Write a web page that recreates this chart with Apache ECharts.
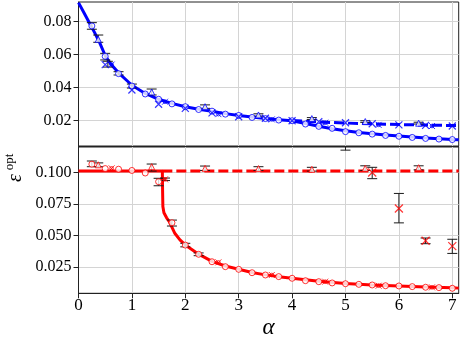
<!DOCTYPE html>
<html><head><meta charset="utf-8">
<script src="https://cdn.jsdelivr.net/npm/echarts@6/dist/echarts.min.js"></script>
<style>html,body{margin:0;padding:0;background:#fff}#c{width:461px;height:344px}</style>
</head><body><div id="c"></div><script>
// ---- axis ticks ----
const xTicks = [0, 1, 2, 3, 4, 5, 6, 7];
const topTicks = [0.02, 0.04, 0.06, 0.08];
const botTicks = [0.025, 0.05, 0.075, 0.1];

// ---- top panel (blue) ----
const blueSolidX = [0,0.1,0.2,0.3,0.4,0.5,0.6,0.75,0.9,1.0,1.25,1.5,1.75,2.0,2.25,2.5,2.75,3.0,3.25,3.5,3.75,4.0,4.25,4.5,4.75,5.0,5.25,5.5,5.75,6.0,6.5,7.0,7.12];
const blueSolidY = [0.0915,0.0855,0.0795,0.0735,0.0670,0.0595,0.0545,0.0490,0.0445,0.0415,0.0365,0.0330,0.0305,0.0285,0.0270,0.0257,0.0243,0.0232,0.0222,0.0213,0.0206,0.0200,0.0183,0.0167,0.0152,0.0139,0.0129,0.0121,0.0114,0.0107,0.0096,0.0087,0.0085];
const blueDashX = [4.0,4.5,5.0,5.5,6.0,6.5,7.0,7.12];
const blueDashY = [0.0201,0.0193,0.0186,0.0181,0.0177,0.0174,0.0171,0.0170];
const blueCircX = [0.25,0.5,0.75,1.0,1.25,1.5,1.75,2.0,2.25,2.5,2.75,3.0,3.25,3.5,3.75,4.0,4.25,4.5,4.75,5.0,5.25,5.5,5.75,6.0,6.25,6.5,6.75,7.0];
const blueCircY = [0.0774,0.0590,0.0485,0.0410,0.0362,0.0330,0.0302,0.0285,0.0268,0.0258,0.0240,0.0232,0.0220,0.0213,0.0204,0.0200,0.0180,0.0166,0.0154,0.0134,0.0127,0.0119,0.0111,0.0106,0.0099,0.0093,0.0089,0.0086];
const blueTriX = [0.37,1.37,2.37,3.37,4.37,5.37,6.37];
const blueTriY = [0.0693,0.0374,0.0285,0.0235,0.0213,0.0195,0.0185];
const blueCrossX = [0.5,1.0,1.5,2.0,2.5,3.0,3.5,4.0,4.5,5.0,5.5,6.0,6.5,7.0];
const blueCrossY = [0.0540,0.0386,0.0300,0.0275,0.0248,0.0224,0.0215,0.0200,0.0195,0.0188,0.0182,0.0175,0.0172,0.0168];
const blueOxX = [0.62,1.62,2.62,3.62,4.62,5.62,6.62];
const blueOxY = [0.0540,0.0315,0.0240,0.0208,0.0188,0.0175,0.0168];
const blueErrX  = [0.25,0.37,0.5,0.55,0.75,1.0,1.37,2.37,3.37,4.37,5.37,6.37];
const blueErrLo = [0.0754,0.0675,0.0568,0.0525,0.0477,0.0398,0.0356,0.0275,0.0228,0.0207,0.0190,0.0180];
const blueErrHi = [0.0794,0.0719,0.0608,0.0560,0.0497,0.0422,0.0392,0.0296,0.0242,0.0219,0.0200,0.0191];

// ---- bottom panel (red) ----
const redSolidX = [0,1.57,1.575,1.58,1.6,1.65,1.7,1.8,1.9,2.0,2.25,2.5,2.75,3.0,3.25,3.5,3.75,4.0,4.5,5.0,5.5,6.0,6.5,7.0,7.12];
const redSolidY = [0.101,0.101,0.085,0.073,0.068,0.064,0.061,0.052,0.0465,0.0425,0.0352,0.0295,0.0258,0.0232,0.0207,0.0188,0.0174,0.0161,0.0137,0.0120,0.0108,0.0100,0.0092,0.0085,0.0083];
const redDashX = [1.57, 7.12];
const redDashY = [0.101, 0.101];
const redCircX = [0.25,0.5,0.75,1.0,1.25,1.5,1.75,2.0,2.25,2.5,2.75,3.0,3.25,3.5,3.75,4.0,4.25,4.5,4.75,5.0,5.25,5.5,5.75,6.0,6.25,6.5,6.75,7.0];
const redCircY = [0.1065,0.1030,0.1025,0.1015,0.0995,0.0926,0.0601,0.0424,0.0351,0.0292,0.0253,0.0232,0.0205,0.0187,0.0174,0.0161,0.0142,0.0134,0.0124,0.0118,0.0113,0.0108,0.0102,0.0100,0.0095,0.0090,0.0087,0.0082];
const redTriX = [0.37,1.37,2.37,3.37,4.37,5.37,6.37];
const redTriY = [0.1060,0.1045,0.1032,0.1030,0.1024,0.1032,0.1037];
const redOxX = [0.62,1.62,2.62,3.62,4.62,5.62,6.62];
const redOxY = [0.1032,0.0945,0.0287,0.0187,0.0134,0.0102,0.0089];
const redCrossX = [5.5,6.0,6.5,7.0];
const redCrossY = [0.0999,0.0714,0.0458,0.0416];
const redErrX  = [0.25,0.37,1.37,1.5,1.62,1.75,2.0,2.25,2.37,3.37,4.37,5.37,6.37,5.0,5.5,6.0,6.5,7.0];
const redErrLo = [0.1045,0.1045,0.1010,0.0894,0.0935,0.0575,0.0410,0.0340,0.1015,0.1015,0.1010,0.1015,0.1020,0.1176,0.0950,0.0600,0.0435,0.0358];
const redErrHi = [0.1090,0.1075,0.1066,0.0953,0.0955,0.0622,0.0438,0.0362,0.1050,0.1045,0.1040,0.1052,0.1052,0.1500,0.1040,0.0833,0.0480,0.0470];

const zip = (a, b) => a.map((v, i) => [v, b[i]]);
const zip3 = (a, b, c) => a.map((v, i) => [v, b[i], c[i]]);

const BLUE = '#0000ff', RED = '#ff0000';
const FONT = 'Liberation Serif';
const XSYM = 'path://M0,0L10,10M0,10L10,0';
const OXSYM = 'path://M0,0L10,10M0,10L10,0M8,5A3,3,0,1,1,2,5A3,3,0,1,1,8,5Z';

function errRender(params, api) {
  const x = api.value(0), lo = api.value(1), hi = api.value(2);
  const p1 = api.coord([x, lo]), p2 = api.coord([x, hi]);
  const w = 5;
  const style = { stroke: '#1a1a1a', lineWidth: 1 };
  return { type: 'group', children: [
    { type: 'line', shape: { x1: p1[0], y1: p1[1], x2: p2[0], y2: p2[1] }, style },
    { type: 'line', shape: { x1: p1[0] - w, y1: p1[1], x2: p1[0] + w, y2: p1[1] }, style },
    { type: 'line', shape: { x1: p2[0] - w, y1: p2[1], x2: p2[0] + w, y2: p2[1] }, style }
  ]};
}

function xAx(gi, showLabels) {
  return {
    type: 'value', gridIndex: gi, min: 0, max: 7.12,
    axisLine: { show: true, onZero: false, lineStyle: { color: '#222', width: 1 } },
    axisTick: { show: showLabels, customValues: xTicks, length: 5, lineStyle: { color: '#222' } },
    axisLabel: { show: showLabels, customValues: xTicks, margin: 4, fontFamily: FONT, fontSize: 17, color: '#000' },
    splitLine: { show: true, lineStyle: { color: '#d4d4d4', width: 1 } }
  };
}
function yAx(gi, min, max, ticks, dec) {
  return {
    type: 'value', gridIndex: gi, min: min, max: max,
    axisLine: { show: true, lineStyle: { color: '#222', width: 1 } },
    axisTick: { show: true, customValues: ticks, length: 5, lineStyle: { color: '#222' } },
    axisLabel: { customValues: ticks, margin: 7, fontFamily: FONT, fontSize: 16, color: '#000',
      formatter: v => Number(v).toFixed(dec) },
    splitLine: { show: true, lineStyle: { color: '#d4d4d4', width: 1 } }
  };
}
function sc(gi, data, symbol, size, color, fill, bw) {
  return { type: 'scatter', xAxisIndex: gi, yAxisIndex: gi, data: data, symbol: symbol, symbolSize: size,
    itemStyle: { color: fill, borderColor: color, borderWidth: bw }, z: 5, silent: true, animation: false };
}
function ln(gi, data, color, dashed) {
  return { type: 'line', xAxisIndex: gi, yAxisIndex: gi, data: data, showSymbol: false, symbol: 'none',
    lineStyle: { color: color, width: 3, type: dashed ? [10, 4] : 'solid' }, z: 2, silent: true, animation: false, clip: true };
}
function eb(gi, data) {
  return { type: 'custom', xAxisIndex: gi, yAxisIndex: gi, data: data, renderItem: errRender, clip: true, z: 4, silent: true, animation: false };
}

const chart = echarts.init(document.getElementById('c'), null, { renderer: 'canvas' });
chart.setOption({
  animation: false,
  backgroundColor: '#fff',
  grid: [
    { left: 78.5, right: 2.3, top: 2, height: 144, show: true, borderColor: '#222', borderWidth: 1, backgroundColor: 'transparent' },
    { left: 78.5, right: 2.3, top: 147, height: 146.3, show: true, borderColor: '#222', borderWidth: 1, backgroundColor: 'transparent' }
  ],
  xAxis: [xAx(0, false), xAx(1, true)],
  yAxis: [yAx(0, 0.0047, 0.0919, topTicks, 2), yAx(1, 0.0042, 0.1201, botTicks, 3)],
  series: [
    ln(0, zip(blueSolidX, blueSolidY), BLUE, false),
    ln(0, zip(blueDashX, blueDashY), BLUE, true),
    eb(0, zip3(blueErrX, blueErrLo, blueErrHi)),
    sc(0, zip(blueCircX, blueCircY), 'circle', 6, BLUE, '#fff', 1),
    sc(0, zip(blueTriX, blueTriY), 'triangle', 6, BLUE, '#fff', 1),
    sc(0, zip(blueCrossX, blueCrossY), XSYM, 7, BLUE, 'rgba(0,0,0,0)', 1.2),
    sc(0, zip(blueOxX, blueOxY), OXSYM, 6, BLUE, 'rgba(0,0,0,0)', 1),
    ln(1, zip(redSolidX, redSolidY), RED, false),
    ln(1, zip(redDashX, redDashY), RED, true),
    eb(1, zip3(redErrX, redErrLo, redErrHi)),
    sc(1, zip(redCircX, redCircY), 'circle', 6, RED, '#fff', 1),
    sc(1, zip(redTriX, redTriY), 'triangle', 6, RED, '#fff', 1),
    sc(1, zip(redOxX, redOxY), OXSYM, 6, RED, 'rgba(0,0,0,0)', 1),
    sc(1, zip(redCrossX, redCrossY), XSYM, 8, RED, 'rgba(0,0,0,0)', 1.2)
  ],
  graphic: [
    { type: 'text', x: 268.5, y: 328, style: { text: 'α', font: 'italic 23px "Liberation Serif"', fill: '#000', align: 'center', verticalAlign: 'middle' } },
    { type: 'text', x: 16, y: 178, rotation: Math.PI / 2, style: { text: 'ε', font: 'italic 20px "Liberation Serif"', fill: '#000', align: 'center', verticalAlign: 'middle' } },
    { type: 'text', x: 10, y: 162, rotation: Math.PI / 2, style: { text: 'opt', font: '13px "Liberation Serif"', fill: '#000', align: 'center', verticalAlign: 'middle' } }
  ]
});
</script></body></html>
